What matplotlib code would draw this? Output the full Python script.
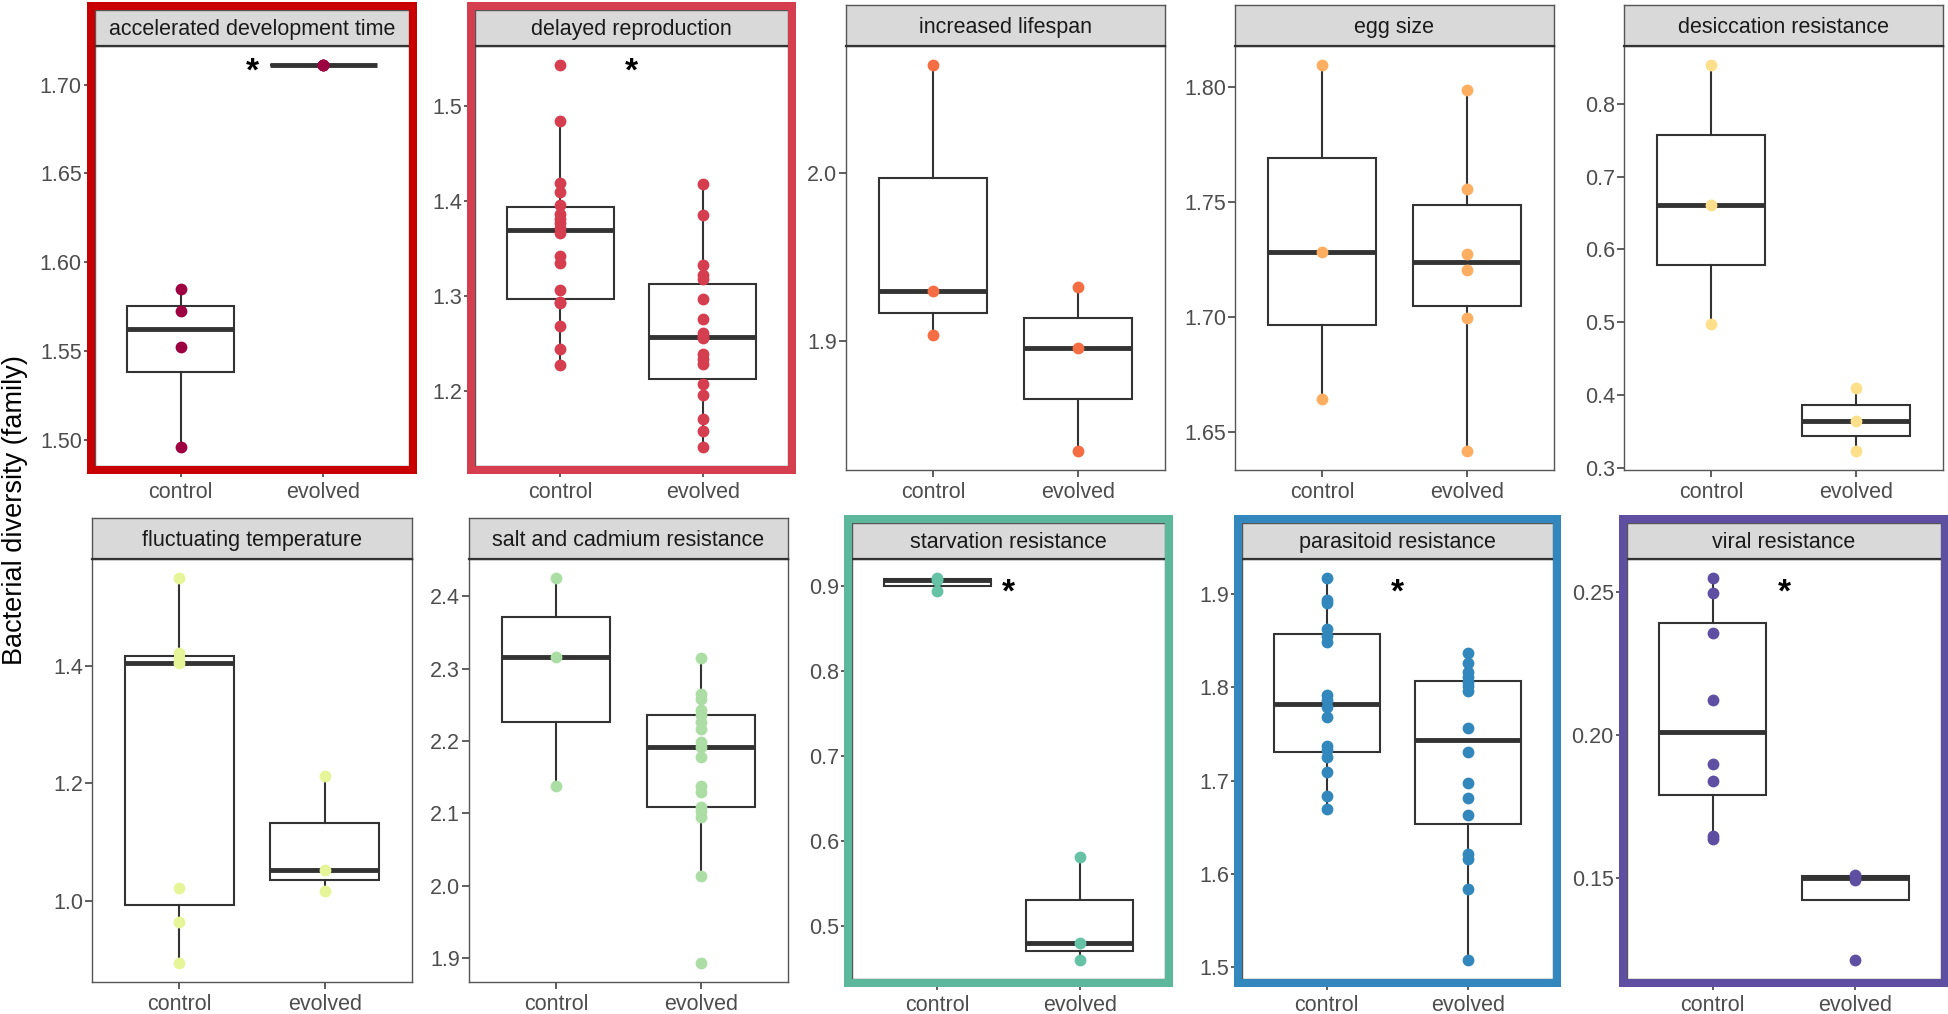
import numpy as np
import matplotlib.pyplot as plt
from matplotlib.patches import Rectangle
from matplotlib.ticker import MultipleLocator, FormatStrFormatter

plt.rcParams['font.family'] = ['Liberation Sans', 'DejaVu Sans']

# panel titles, in reading order
titles = ["accelerated development time", "delayed reproduction", "increased lifespan",
          "egg size", "desiccation resistance", "fluctuating temperature",
          "salt and cadmium resistance", "starvation resistance",
          "parasitoid resistance", "viral resistance"]
groups = ["control", "evolved"]

# bacterial diversity (family) per line
control = [
    [1.496, 1.552, 1.5725, 1.585],
    [1.227, 1.2443, 1.2686, 1.2931, 1.2935, 1.3067, 1.3347, 1.3424, 1.3666,
     1.3718, 1.377, 1.381, 1.3857, 1.396, 1.4089, 1.4186, 1.4834, 1.5426],
    [1.9033, 1.9295, 2.0639],
    [1.6642, 1.7284, 1.8096],
    [0.4973, 0.6605, 0.853],
    [0.894, 0.9632, 1.0211, 1.4058, 1.4143, 1.4216, 1.5498],
    [2.1371, 2.3164, 2.4248],
    [0.8937, 0.906, 0.9088],
    [1.6693, 1.6836, 1.709, 1.7253, 1.7324, 1.7373, 1.7677, 1.7783, 1.7868,
     1.792, 1.849, 1.855, 1.8621, 1.8905, 1.894, 1.917],
    [0.1635, 0.1644, 0.1837, 0.1898, 0.2124, 0.2357, 0.2496, 0.255],
]
evolved = [
    [1.711, 1.711, 1.711],
    [1.1414, 1.158, 1.1709, 1.1958, 1.2073, 1.228, 1.2333, 1.2385, 1.2557,
     1.2575, 1.2616, 1.2759, 1.2973, 1.3181, 1.3222, 1.3326, 1.385, 1.4176],
    [1.8346, 1.8956, 1.932],
    [1.6417, 1.6996, 1.7204, 1.7276, 1.7557, 1.799],
    [0.3235, 0.3646, 0.409],
    [1.017, 1.0523, 1.2123],
    [1.8934, 2.0134, 2.0943, 2.103, 2.1081, 2.1297, 2.1371, 2.1771, 2.1909,
     2.1986, 2.2161, 2.2262, 2.2354, 2.2428, 2.2585, 2.2644, 2.3141],
    [0.4603, 0.4805, 0.5813],
    [1.5077, 1.5834, 1.6163, 1.6216, 1.6634, 1.6814, 1.6977, 1.7302, 1.756,
     1.796, 1.8009, 1.8056, 1.8109, 1.8162, 1.8257, 1.8363],
    [0.1211, 0.149, 0.1505, 0.151],
]
significant = [True, True, False, False, False, False, False, True, True, True]

point_colors = ["#9E0142", "#D53E4F", "#F46D43", "#FDAE61", "#FEE08B",
                "#E6F598", "#ABDDA4", "#66C2A5", "#3288BD", "#5E4FA2"]
frame_colors = ["#C80000", "#D53E4F", None, None, None,
                None, None, "#5DB89B", "#3288BD", "#5E4FA2"]
tick_steps = [0.05, 0.1, 0.1, 0.05, 0.1, 0.2, 0.1, 0.1, 0.1, 0.05]
tick_fmt = ["%.2f", "%.1f", "%.1f", "%.2f", "%.1f", "%.1f", "%.1f", "%.1f", "%.1f", "%.2f"]

W, H = 1949, 1014
# pixel layout: left, right, strip top, panel top, panel bottom
layout = [
    (95, 409, 10, 46, 466), (475, 788, 10, 46, 466), (846, 1165, 5, 46, 470),
    (1235, 1554, 5, 46, 470), (1624, 1943, 5, 46, 470),
    (92, 412, 518, 559, 982), (469, 788, 518, 559, 982), (852, 1165, 523, 559, 979),
    (1242, 1553, 523, 559, 979), (1627, 1941, 523, 559, 979),
]
# how far (points) the asterisk sits below the highest value
star_drop = [5, 5, 5, 5, 5, 11, 11, 11, 11, 11]

fig = plt.figure(figsize=(W / 100, H / 100), dpi=100)
dark = "#333333"

for i, title in enumerate(titles):
    l, r, st, t, b = layout[i]
    framed = frame_colors[i] is not None
    ax = fig.add_axes([l / W, 1 - b / H, (r - l) / W, (b - t) / H])
    sax = fig.add_axes([l / W, 1 - t / H, (r - l) / W, (t - st) / H])

    c = np.array(control[i])
    e = np.array(evolved[i])
    ax.boxplot([c, e], positions=[1, 2], widths=0.75, showfliers=False,
               showcaps=False, patch_artist=True,
               boxprops=dict(facecolor="white", edgecolor=dark, linewidth=1.5),
               whiskerprops=dict(color=dark, linewidth=1.5),
               medianprops=dict(color=dark, linewidth=3.5))
    ax.plot(np.ones(len(c)), c, "o", color=point_colors[i], ms=8.5, mec="none", zorder=4)
    ax.plot(np.full(len(e), 2), e, "o", color=point_colors[i], ms=8.5, mec="none", zorder=4)

    allv = np.concatenate([c, e])
    lo, hi = allv.min(), allv.max()
    pad = (hi - lo) * 0.05
    ax.set_ylim(lo - pad, hi + pad)
    ax.set_xlim(0.4, 2.6)
    ax.set_xticks([1, 2])
    ax.set_xticklabels(groups)
    ax.yaxis.set_major_locator(MultipleLocator(tick_steps[i]))
    ax.yaxis.set_major_formatter(FormatStrFormatter(tick_fmt[i]))
    tlen = 8 if framed else 5
    ax.tick_params(length=tlen, width=1.1, color=dark, labelsize=15.5,
                   labelcolor="#4D4D4D")
    ax.tick_params(axis="x", pad=3.5)
    ax.tick_params(axis="y", pad=1.5)
    for s in ax.spines.values():
        s.set_color("#555555")
        s.set_linewidth(1.0)

    if significant[i]:
        ax.annotate("*", (1.5, hi), xytext=(0, -star_drop[i]), textcoords="offset points",
                    fontsize=24, fontweight="bold", ha="center", va="center",
                    color="black", zorder=5)

    sax.set_facecolor("#D9D9D9")
    sax.set_xticks([])
    sax.set_yticks([])
    for s in sax.spines.values():
        s.set_color("#555555")
        s.set_linewidth(1.0)
    sax.spines["bottom"].set_color(dark)
    sax.spines["bottom"].set_linewidth(1.6)
    sax.text(0.5, 0.45, title, ha="center", va="center", fontsize=15.5,
             color="#1A1A1A", transform=sax.transAxes)

    if framed:
        x0, x1 = (l - 4) / W, (r + 4) / W
        y0, y1 = 1 - (b + 4) / H, 1 - (st - 4) / H
        fig.add_artist(Rectangle((x0, y0), x1 - x0, y1 - y0, transform=fig.transFigure,
                                 fill=False, edgecolor=frame_colors[i], linewidth=5.76,
                                 joinstyle="miter", zorder=10))

fig.text(15 / W, 1 - 510 / H, "Bacterial diversity (family)", rotation=90,
         ha="center", va="center", fontsize=19.5, color="black")

fig.savefig("out.png", dpi=100)
